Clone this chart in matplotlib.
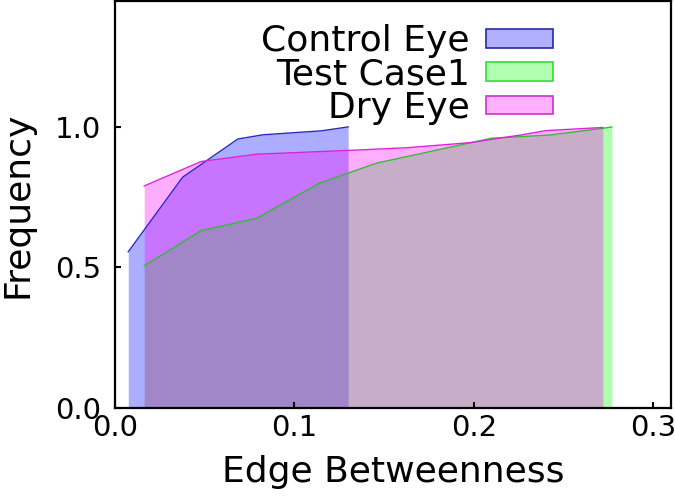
import matplotlib
matplotlib.use('Agg')
import matplotlib.pyplot as plt
from matplotlib.patches import Patch

# cumulative frequency vs edge betweenness
control_x = [0.0074, 0.0377, 0.0685, 0.0825, 0.115, 0.130]
control_y = [0.556, 0.821, 0.957, 0.972, 0.986, 1.0]

test_x = [0.0163, 0.048, 0.079, 0.114, 0.1458, 0.21, 0.242, 0.272, 0.277]
test_y = [0.506, 0.631, 0.675, 0.80, 0.871, 0.96, 0.971, 0.995, 1.0]

dry_x = [0.0163, 0.048, 0.079, 0.136, 0.163, 0.198, 0.226, 0.2405, 0.272]
dry_y = [0.79, 0.877, 0.903, 0.918, 0.926, 0.944, 0.971, 0.987, 0.998]

labels = ['Control Eye', 'Test Case1', 'Dry Eye']

fig = plt.figure(figsize=(6.75, 5), dpi=100)
ax = fig.add_axes([115/675, 1-408/500, 556/675, 407/500])

ax.fill_between(control_x, 0, control_y, color='blue', alpha=0.32, lw=0)
ax.plot(control_x, control_y, color='#2a2ac8', lw=1)
ax.fill_between(test_x, 0, test_y, color='lime', alpha=0.32, lw=0)
ax.plot(test_x, test_y, color='#33bb33', lw=1)
ax.fill_between(dry_x, 0, dry_y, color='magenta', alpha=0.32, lw=0)
ax.plot(dry_x, dry_y, color='#dd22dd', lw=1)

ax.set_xlim(0, 0.31)
ax.set_ylim(0, 1.448)
ax.set_xticks([0.0, 0.1, 0.2, 0.3])
ax.set_yticks([0.0, 0.5, 1.0])
ax.set_xticklabels(['0.0', '0.1', '0.2', '0.3'])
ax.set_yticklabels(['0.0', '0.5', '1.0'])
ax.tick_params(direction='in', length=4, width=1.5, labelsize=21, top=False, right=False)
ax.tick_params(axis='x', pad=4)
ax.tick_params(axis='y', pad=10)
for s in ax.spines.values():
    s.set_linewidth(1.6)

ax.set_xlabel('Edge Betweenness', fontsize=26, labelpad=10)
ax.set_ylabel('Frequency', fontsize=26, labelpad=15)

handles = [Patch(facecolor='#b0b0ff', edgecolor='#2a2aa0', lw=1.2),
           Patch(facecolor='#b0ffb0', edgecolor='#33dd33', lw=1.2),
           Patch(facecolor='#ffb0ff', edgecolor='#cc33cc', lw=1.2)]
ax.legend(handles, labels, loc='upper right', bbox_to_anchor=(0.788, 0.943),
          frameon=False, fontsize=26, markerfirst=False, handlelength=1.86,
          handleheight=0.42, handletextpad=0.45, labelspacing=-0.02,
          borderpad=0, borderaxespad=0)

fig.savefig('out.png', dpi=100)
